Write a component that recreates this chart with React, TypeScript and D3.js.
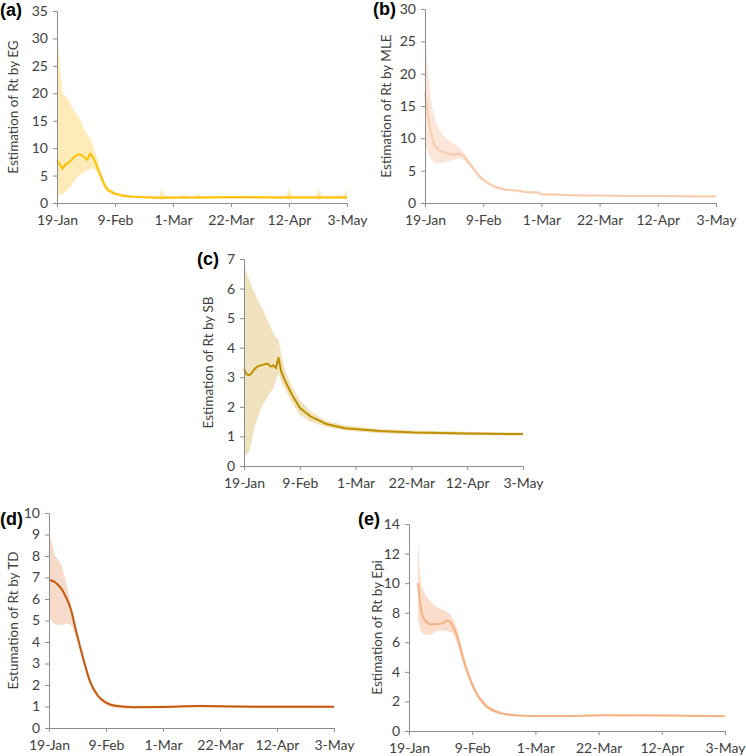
import React, { useEffect, useRef } from 'react'
import * as d3 from 'd3'

// day offsets from 19-Jan-2020, mean Rt and the 95% band
const egDays = [0, 1, 2, 3, 4, 5, 6, 7, 8, 9, 10, 11, 12, 13, 14, 15, 16, 17, 18, 19, 21, 24, 27, 30, 34, 37, 38, 39, 45, 46, 47, 50, 51, 52, 60, 70, 80, 83, 84, 85, 94, 95, 96, 104, 105]
const egMean = [7.8, 7.0, 6.3, 7.0, 7.3, 7.7, 8.3, 8.7, 8.9, 8.7, 8.3, 7.9, 9.0, 8.4, 7.3, 6.0, 4.8, 3.5, 2.6, 2.2, 1.7, 1.3, 1.15, 1.1, 1.0, 0.95, 0.95, 0.95, 1.0, 1.0, 1.0, 1.0, 1.0, 1.0, 1.05, 1.05, 1.0, 1.0, 1.0, 1.0, 1.0, 1.0, 1.0, 1.0, 1.0]
const egHi = [31.8, 25, 20, 19.5, 18.8, 17.8, 17, 16.2, 15.5, 14.5, 13.3, 12.5, 11.8, 10.5, 9.0, 7.2, 5.5, 4.1, 3.2, 2.6, 2.0, 1.6, 1.4, 1.3, 1.25, 1.3, 2.6, 1.3, 1.25, 1.7, 1.25, 1.25, 1.7, 1.25, 1.3, 1.3, 1.25, 1.3, 2.6, 1.3, 1.3, 2.6, 1.3, 1.4, 2.6]
const egLo = [1.5, 1.5, 1.6, 2.0, 2.5, 3.1, 3.8, 4.5, 5.0, 5.4, 5.7, 6.0, 6.3, 6.3, 6.0, 4.9, 3.8, 2.9, 2.2, 1.8, 1.4, 1.05, 0.95, 0.9, 0.8, 0.78, 0.5, 0.78, 0.8, 0.7, 0.8, 0.8, 0.7, 0.8, 0.85, 0.85, 0.8, 0.8, 0.5, 0.8, 0.8, 0.5, 0.8, 0.8, 0.6]

const mleDays = [0, 1, 2, 3, 4, 5, 7, 9, 11, 12, 13, 14, 15, 17, 19, 21, 23, 26, 29, 32, 34, 36, 40, 41, 42, 46, 53, 63, 75, 90, 105]
const mleMean = [17.0, 14.0, 11.2, 9.5, 8.6, 8.2, 7.8, 7.6, 7.45, 7.7, 7.5, 7.2, 6.7, 5.6, 4.4, 3.6, 3.0, 2.4, 2.1, 1.95, 1.9, 1.7, 1.65, 1.6, 1.35, 1.3, 1.2, 1.15, 1.1, 1.05, 1.0]
const mleHi = [26, 21, 16.5, 14, 12.5, 11.5, 10.3, 9.6, 9.0, 8.7, 8.2, 7.8, 7.2, 6.0, 4.7, 3.9, 3.25, 2.6, 2.25, 2.1, 2.05, 1.85, 1.8, 1.75, 1.5, 1.45, 1.32, 1.27, 1.22, 1.17, 1.12]
const mleLo = [9.5, 7.8, 7.0, 6.4, 6.1, 6.1, 6.3, 6.5, 6.8, 6.9, 6.9, 6.7, 6.2, 5.2, 4.1, 3.35, 2.8, 2.25, 1.95, 1.8, 1.75, 1.55, 1.5, 1.45, 1.2, 1.17, 1.08, 1.03, 0.98, 0.94, 0.9]

const sbDays = [0, 1, 2, 3, 4, 5, 6, 7, 8, 9, 10, 11, 12, 13, 14, 15, 16, 18, 21, 25, 31, 38, 51, 64, 84, 105]
const sbMean = [3.28, 3.1, 3.07, 3.15, 3.28, 3.36, 3.4, 3.42, 3.45, 3.46, 3.36, 3.4, 3.32, 3.67, 3.2, 2.98, 2.78, 2.42, 1.97, 1.68, 1.42, 1.28, 1.18, 1.13, 1.1, 1.08]
const sbHi = [6.8, 6.5, 6.3, 6.05, 5.85, 5.65, 5.45, 5.3, 5.1, 4.9, 4.7, 4.5, 4.35, 4.28, 3.75, 3.4, 3.1, 2.7, 2.23, 1.85, 1.52, 1.38, 1.25, 1.2, 1.16, 1.13]
const sbLo = [0.36, 0.37, 0.5, 0.9, 1.3, 1.6, 1.85, 2.05, 2.2, 2.35, 2.5, 2.6, 2.9, 3.15, 2.85, 2.7, 2.5, 2.15, 1.73, 1.5, 1.32, 1.2, 1.11, 1.07, 1.04, 1.03]

const tdDays = [0, 1, 2, 3, 5, 6, 8, 10, 13, 15, 18, 21, 25, 31, 42, 56, 68, 80, 105]
const tdMean = [6.9, 6.85, 6.8, 6.7, 6.4, 6.15, 5.55, 4.5, 3.05, 2.2, 1.5, 1.18, 1.02, 0.97, 0.98, 1.02, 1.0, 0.99, 0.99]
const tdHi = [9.2, 8.6, 8.1, 7.9, 7.4, 6.9, 5.8, 4.7, 3.25, 2.4, 1.62, 1.28, 1.1, 1.03, 1.04, 1.08, 1.06, 1.05, 1.05]
const tdLo = [5.1, 5.0, 4.85, 4.8, 4.8, 4.85, 4.8, 4.2, 2.85, 2.05, 1.4, 1.08, 0.92, 0.91, 0.92, 0.96, 0.94, 0.93, 0.93]

const epiDays = [3, 4, 5, 7, 9, 11, 13, 14, 16, 18, 20, 22, 25, 30, 35, 42, 54, 65, 87, 105]
const epiMean = [10.0, 8.2, 7.6, 7.22, 7.22, 7.28, 7.47, 7.3, 6.4, 4.9, 3.66, 2.7, 1.82, 1.24, 1.07, 1.02, 1.02, 1.06, 1.04, 1.0]
const epiHi = [13.0, 10.0, 9.4, 8.8, 8.4, 8.2, 8.0, 7.8, 6.9, 5.3, 3.95, 2.9, 2.0, 1.36, 1.13, 1.07, 1.07, 1.11, 1.09, 1.05]
const epiLo = [7.5, 6.8, 6.55, 6.5, 6.75, 6.8, 6.75, 6.7, 5.9, 4.5, 3.4, 2.5, 1.65, 1.13, 0.99, 0.97, 0.97, 1.01, 0.99, 0.95]

const dateTicks = ['2020-01-19', '2020-02-09', '2020-03-01', '2020-03-22', '2020-04-12', '2020-05-03']

const start = new Date(2020, 0, 19)
const end = new Date(2020, 4, 3)

const panels = [
  { tag: '(a)', title: 'Estimation of Rt by EG', days: egDays, mean: egMean, hi: egHi, lo: egLo, yMax: 35, yStep: 5,
    x0: 57, x1: 347, yb: 203, yt: 11, tx: 13, lx: 0, ly: 16, line: '#FFC000', band: '#FFEBB8', smooth: false },
  { tag: '(b)', title: 'Estimation of Rt by MLE', days: mleDays, mean: mleMean, hi: mleHi, lo: mleLo, yMax: 30, yStep: 5,
    x0: 425, x1: 716, yb: 203, yt: 9, tx: 386, lx: 373, ly: 15, line: '#F8CBAD', band: '#FCE6D9', smooth: true },
  { tag: '(c)', title: 'Estimation of Rt by SB', days: sbDays, mean: sbMean, hi: sbHi, lo: sbLo, yMax: 7, yStep: 1,
    x0: 244, x1: 523, yb: 466, yt: 259, tx: 208, lx: 197, ly: 265, line: '#BF9000', band: '#EFE2BC', smooth: false },
  { tag: '(d)', title: 'Estumation of Rt by TD', days: tdDays, mean: tdMean, hi: tdHi, lo: tdLo, yMax: 10, yStep: 1,
    x0: 49, x1: 334, yb: 728, yt: 513, tx: 13, lx: 0, ly: 525, line: '#C55A11', band: '#F6DACA', smooth: true },
  { tag: '(e)', title: 'Estimation of Rt by Epi', days: epiDays, mean: epiMean, hi: epiHi, lo: epiLo, yMax: 14, yStep: 2,
    x0: 409, x1: 725, yb: 731, yt: 524, tx: 377, lx: 358, ly: 525, line: '#F4B183', band: '#FCDDCC', smooth: true },
]

const App = () => {
  const svgRef = useRef<SVGSVGElement>(null)
  useEffect(() => {
    const svg = d3.select(svgRef.current)
    svg.selectAll('*').remove()
    const fmt = d3.timeFormat('%-d-%b')
    const ticks = dateTicks.map(s => d3.timeParse('%Y-%m-%d')(s) as Date)

    panels.forEach(p => {
      const g = svg.append('g')
      const x = d3.scaleTime().domain([start, end]).range([p.x0, p.x1])
      const y = d3.scaleLinear().domain([0, p.yMax]).range([p.yb, p.yt])
      const pts = p.days.map((d, i) => ({ t: d3.timeDay.offset(start, d), m: p.mean[i], h: p.hi[i], l: p.lo[i] }))
      const curve = p.smooth ? d3.curveMonotoneX : d3.curveLinear

      const area = d3.area<any>().x(d => x(d.t)).y0(d => y(d.l)).y1(d => y(d.h)).curve(curve)
      const line = d3.line<any>().x(d => x(d.t)).y(d => y(d.m)).curve(curve)

      g.append('path').attr('d', area(pts)).attr('fill', p.band).attr('stroke', 'none')
      g.append('path').attr('d', line(pts)).attr('fill', 'none').attr('stroke', p.line).attr('stroke-width', 2)

      const xAxis = d3.axisBottom(x).tickValues(ticks).tickFormat(d => fmt(d as Date)).tickSize(4).tickSizeOuter(0).tickPadding(8)
      const yAxis = d3.axisLeft(y).tickValues(d3.range(0, p.yMax + 0.001, p.yStep)).tickFormat(d3.format('d')).tickSize(4).tickSizeOuter(0).tickPadding(5)

      const gx = g.append('g').attr('transform', `translate(0,${p.yb})`).call(xAxis)
      const gy = g.append('g').attr('transform', `translate(${p.x0},0)`).call(yAxis)
      ;[gx, gy].forEach(a => {
        a.selectAll('path,line').attr('stroke', '#8c8c8c')
        a.selectAll('text').attr('fill', '#404040').style('font-family', 'Lato').style('font-size', '14px')
      })

      g.append('text')
        .attr('transform', `translate(${p.tx},${(p.yb + p.yt) / 2}) rotate(-90)`)
        .attr('text-anchor', 'middle')
        .attr('dy', '0.35em')
        .attr('fill', '#404040')
        .style('font-family', 'Lato')
        .style('font-size', '13.5px')
        .text(p.title)

      g.append('text')
        .attr('x', p.lx)
        .attr('y', p.ly)
        .attr('fill', '#000')
        .style('font-family', 'Liberation Sans')
        .style('font-weight', 'bold')
        .style('font-size', '18px')
        .text(p.tag)
    })
  }, [])

  return (
    <svg ref={svgRef} width={746} height={756}
      style={{ position: 'absolute', left: 0, top: 0, background: '#fff' }} />
  )
}

export default App
